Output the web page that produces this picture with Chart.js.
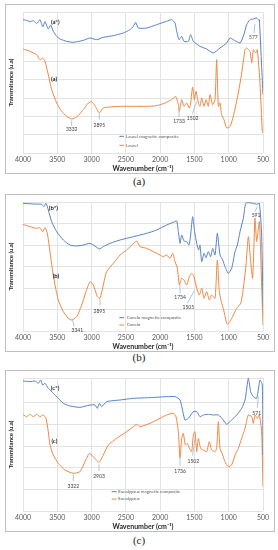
<!DOCTYPE html>
<html>
<head>
<meta charset="utf-8">
<script src="https://cdn.jsdelivr.net/npm/chart.js@4.4.1/dist/chart.umd.min.js"></script>
<style>
  body { margin: 0; background: #fff; width: 278px; height: 550px; position: relative; overflow: hidden; }
  .panel { position: absolute; left: 5px; width: 268px; border: 1px solid #bfbfbf; }
  .panel canvas { display: block; }
  .cap { position: absolute; left: 0; width: 278px; text-align: center; font: 11px "Liberation Serif", serif; color: #222; }
</style>
</head>
<body>
<div class="panel" style="top:4px"><canvas id="chartA" width="268" height="168"></canvas></div>
<div class="cap" style="top:175px">(a)</div>
<div class="panel" style="top:194px"><canvas id="chartB" width="268" height="156"></canvas></div>
<div class="cap" style="top:351px">(b)</div>
<div class="panel" style="top:370px"><canvas id="chartC" width="268" height="160"></canvas></div>
<div class="cap" style="top:534px">(c)</div>

<script>
// x: wavenumber (cm-1), T: transmittance (arbitrary units)
const laurelCompX = [4000,3947,3898,3849,3801,3752,3713,3679,3631,3597,3558,3509,3460,3363,3266,3120,3023,2926,2829,2683,2537,2440,2391,2357,2318,2197,2051,1905,1832,1783,1759,1725,1686,1652,1589,1555,1516,1419,1322,1224,1127,1030,981,933,835,787,738,690,641,592,568,553,520,500];
const laurelCompT = [400,398,394,397,388,400,378,394,372,384,365,350,342,335,332,338,345,340,347,352,360,370,380,392,375,375,385,395,400,390,365,340,350,335,335,355,335,320,312,300,315,330,345,340,330,350,385,400,402,405,400,400,260,175];
const laurelX = [4000,3898,3801,3752,3713,3679,3631,3582,3509,3436,3363,3290,3217,3120,3047,2999,2950,2887,2829,2731,2585,2391,2197,2051,1929,1832,1774,1735,1720,1686,1652,1613,1574,1555,1526,1501,1477,1443,1419,1394,1360,1331,1297,1273,1234,1200,1176,1151,1127,1103,1069,1030,981,933,860,811,762,738,690,665,641,607,583,544,510,500];
const laurelT = [312,305,295,280,285,275,235,190,150,125,110,102,108,130,150,154,142,120,135,138,140,140,140,142,150,160,170,145,125,160,140,150,135,150,198,160,185,150,140,165,140,160,140,175,145,160,280,140,150,115,100,75,80,110,180,240,310,315,305,270,310,300,310,210,65,60];

const caneloCompX = [4000,3849,3728,3694,3665,3631,3582,3509,3412,3315,3217,3120,3023,2950,2887,2829,2731,2585,2391,2197,2051,1905,1808,1759,1735,1710,1686,1652,1613,1579,1555,1526,1497,1467,1438,1419,1394,1360,1331,1297,1263,1234,1200,1166,1127,1088,1054,1006,957,908,874,835,787,753,714,641,592,553,520,500];
const caneloCompT = [383,381,380,373,383,363,328,298,273,258,255,258,263,255,246,253,263,273,283,293,303,318,326,330,298,263,288,270,268,258,288,343,298,263,243,258,208,233,220,238,223,248,228,293,228,213,193,173,188,238,258,298,338,383,385,383,380,383,288,73];
const caneloX = [4000,3898,3801,3752,3713,3679,3645,3606,3567,3533,3485,3412,3339,3290,3217,3144,3081,3023,2974,2916,2877,2829,2780,2683,2585,2488,2415,2342,2294,2197,2099,2002,1953,1905,1856,1817,1783,1749,1720,1686,1652,1613,1574,1540,1506,1467,1428,1394,1360,1322,1283,1249,1200,1166,1137,1108,1079,1020,957,884,825,787,748,714,680,651,617,592,553,520,500];
const caneloT = [320,313,308,310,298,310,293,238,178,138,93,58,38,33,43,78,118,148,138,103,98,138,178,203,228,243,258,270,253,248,238,228,223,228,218,233,208,188,138,158,153,138,163,173,163,128,108,128,98,118,93,108,98,213,118,88,68,20,38,68,83,128,198,283,208,158,338,268,328,138,18];

const eucalCompX = [4000,3898,3825,3776,3742,3713,3679,3631,3558,3485,3412,3315,3169,3023,2950,2916,2887,2853,2780,2585,2391,2148,1905,1783,1710,1638,1589,1516,1467,1419,1370,1297,1224,1151,1079,1030,957,884,811,762,714,680,641,592,544,510,500];
const eucalCompT = [390,388,390,383,393,378,383,368,353,338,323,315,311,318,318,308,323,313,328,333,338,340,343,343,333,273,278,298,298,283,288,290,288,288,273,260,273,288,308,333,398,358,343,338,393,378,168];
const eucalX = [4000,3947,3898,3849,3801,3752,3703,3665,3631,3606,3558,3485,3388,3266,3169,3096,3033,2974,2892,2829,2756,2634,2488,2391,2342,2294,2148,2002,1905,1808,1769,1735,1710,1686,1662,1633,1603,1574,1540,1516,1492,1467,1443,1409,1370,1322,1283,1249,1200,1176,1151,1127,1088,1054,1006,957,908,860,811,762,714,665,641,617,583,553,520,500];
const eucalT = [290,283,290,283,290,283,288,278,238,198,168,143,123,113,118,148,173,163,146,168,198,218,238,253,260,253,263,278,288,293,283,238,158,218,233,198,203,188,178,228,238,178,218,188,183,178,208,183,178,188,268,188,168,148,133,138,168,188,218,248,288,283,263,288,278,288,238,73];

const xTicks = [500, 4000, 500]; // min, max, step

const blue = '#5580cc';
const orange = '#ef8641';
const grid = '#e3e3e3';
const txt = '#595959';

const notesPlugin = {
  id: 'notes',
  afterDatasetsDraw(chart, args, opts) {
    const ctx = chart.ctx;
    const sx = chart.scales.x, sy = chart.scales.y;
    const px = v => sx.getPixelForValue(v);
    const py = v => sy.getPixelForValue(v);
    ctx.save();
    ctx.lineWidth = 0.8;
    ctx.strokeStyle = '#9fb4d0';
    opts.leads.forEach(l => {
      ctx.beginPath();
      ctx.moveTo(px(l[0]), py(l[1]));
      ctx.lineTo(px(l[2]), py(l[3]));
      ctx.stroke();
    });
    ctx.textAlign = 'center';
    ctx.textBaseline = 'middle';
    opts.labels.forEach(l => {
      ctx.font = l.bold ? 'bold 6px Lato' : '5px Lato';
      ctx.fillStyle = l.bold ? '#262626' : '#404040';
      ctx.fillText(l.t, px(l.x), py(l.y));
    });
    const lg = opts.legend;
    ctx.lineWidth = 1;
    ctx.font = '4.5px Lato';
    ctx.textAlign = 'left';
    ctx.fillStyle = txt;
    [[lg.yComp, blue, lg.names[0]], [lg.yPlain, orange, lg.names[1]]].forEach(r => {
      ctx.strokeStyle = r[1];
      ctx.beginPath();
      ctx.moveTo(px(lg.x1), py(r[0]));
      ctx.lineTo(px(lg.x2), py(r[0]));
      ctx.stroke();
      ctx.fillText(r[2], px(lg.xt), py(r[0]));
    });
    ctx.restore();
  }
};

function makePanel(id, p) {
  const pts = (xs, ys) => xs.map((x, i) => ({ x: x, y: ys[i] }));
  new Chart(document.getElementById(id), {
    type: 'line',
    data: {
      datasets: [
        { data: pts(p.compX, p.compT), borderColor: blue, borderWidth: 1, pointRadius: 0, tension: 0.2 },
        { data: pts(p.plainX, p.plainT), borderColor: orange, borderWidth: 1, pointRadius: 0, tension: 0.2 }
      ]
    },
    options: {
      responsive: false,
      animation: false,
      layout: { padding: { top: 7, right: 11, left: 0, bottom: 0 } },
      plugins: {
        legend: { display: false },
        tooltip: { enabled: false },
        notes: p.notes
      },
      scales: {
        x: {
          type: 'linear', reverse: true,
          min: xTicks[0], max: xTicks[1],
          ticks: { stepSize: xTicks[2], maxRotation: 0, autoSkip: false, padding: 3, color: txt, font: { family: 'Lato', size: 7 }, callback: v => String(v) },
          grid: { color: grid, drawTicks: false },
          border: { display: false },
          title: { display: true, text: 'Wavenumber (cm\u207B\u00B9)', color: '#262626', font: { family: 'Lato', size: 7, weight: 'bold' }, padding: { top: 0, bottom: 0 } },
          afterFit: s => { s.height = p.xh; }
        },
        y: {
          min: 0, max: p.yMax,
          ticks: { display: false, stepSize: p.step },
          grid: { color: grid, drawTicks: false },
          border: { display: false },
          title: { display: true, text: 'Transmitance (u.a)', color: '#262626', font: { family: 'Lato', size: 6, weight: 'bold' }, padding: { top: 1, bottom: 0 } },
          afterFit: s => { s.width = 17; }
        }
      }
    },
    plugins: [notesPlugin]
  });
}

makePanel('chartA', {
  compX: laurelCompX, compT: laurelCompT, plainX: laurelX, plainT: laurelT,
  yMax: 423, step: 55, xh: 20,
  notes: {
    labels: [
      { t: '(a*)', x: 3530, y: 392, bold: true }, { t: '(a)', x: 3548, y: 222, bold: true },
      { t: '3332', x: 3290, y: 70 }, { t: '2895', x: 2887, y: 82 }, { t: '1733', x: 1725, y: 95 },
      { t: '1502', x: 1526, y: 105 }, { t: '577', x: 641, y: 348 }
    ],
    leads: [[3290, 98, 3290, 82], [2887, 118, 2887, 100], [1725, 130, 1725, 108], [1467, 155, 1530, 118], [617, 388, 631, 360]],
    legend: { x1: 2595, x2: 2527, xt: 2498, yComp: 50, yPlain: 23, names: ['Laurel magnetic composite', 'Laurel'] }
  }
});

makePanel('chartB', {
  compX: caneloCompX, compT: caneloCompT, plainX: caneloX, plainT: caneloT,
  yMax: 387, step: 65, xh: 20,
  notes: {
    labels: [
      { t: '(b*)', x: 3558, y: 370, bold: true }, { t: '(b)', x: 3519, y: 166, bold: true },
      { t: '3341', x: 3208, y: 3 }, { t: '2895', x: 2887, y: 58 }, { t: '1734', x: 1710, y: 100 },
      { t: '1505', x: 1589, y: 70 }, { t: '591', x: 602, y: 348 }
    ],
    leads: [[3276, 33, 3256, 13], [2877, 96, 2877, 76], [1710, 138, 1710, 113], [1506, 120, 1603, 83], [583, 373, 617, 358]],
    legend: { x1: 2595, x2: 2527, xt: 2488, yComp: 40, yPlain: 18, names: ['Canelo magnetic composite', 'Canelo'] }
  }
});

makePanel('chartC', {
  compX: eucalCompX, compT: eucalCompT, plainX: eucalX, plainT: eucalT,
  yMax: 399, step: 65, xh: 20,
  notes: {
    labels: [
      { t: '(c*)', x: 3533, y: 370, bold: true }, { t: '(c)', x: 3543, y: 210, bold: true },
      { t: '3322', x: 3266, y: 73 }, { t: '2903', x: 2892, y: 103 }, { t: '1736', x: 1710, y: 120 },
      { t: '1502', x: 1516, y: 148 }, { t: '571', x: 592, y: 293 }
    ],
    leads: [[3266, 110, 3266, 90], [2892, 140, 2892, 120], [1710, 156, 1710, 136], [1487, 223, 1526, 166], [568, 343, 583, 310]],
    legend: { x1: 2707, x2: 2634, xt: 2610, yComp: 58, yPlain: 36, names: ['Eucalyptus magnetic composite', 'Eucalyptus'] }
  }
});
</script>
</body>
</html>
